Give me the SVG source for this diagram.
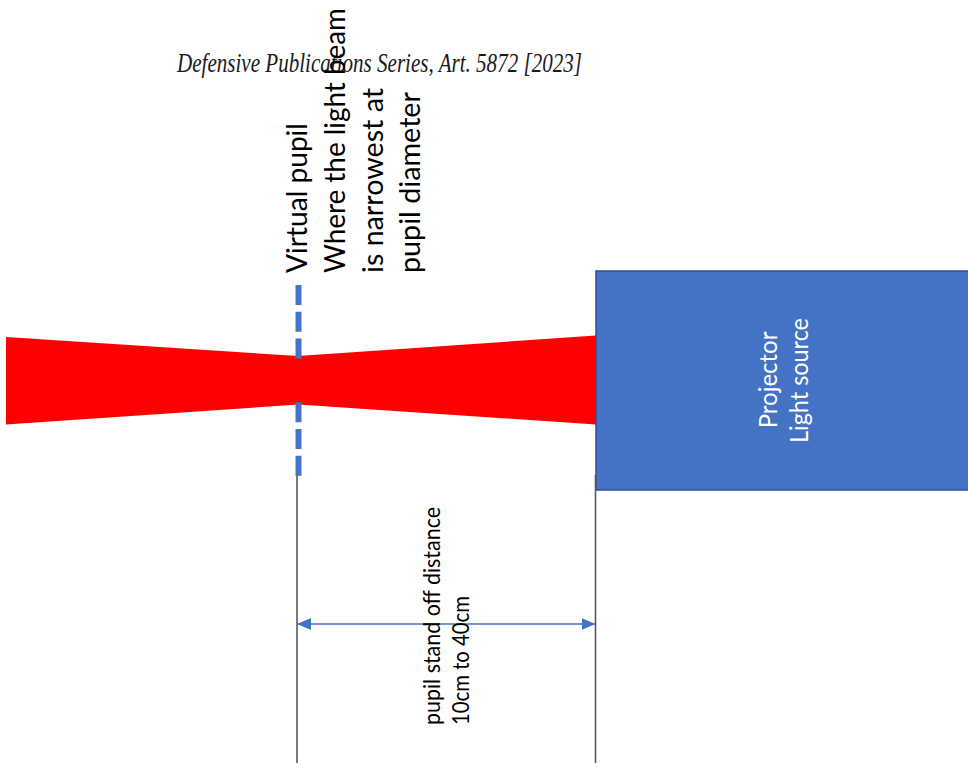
<svg xmlns="http://www.w3.org/2000/svg" width="968" height="777" viewBox="0 0 968 777">
  <defs>
    <style>
      .cal { font-family: Lato, "Open Sans", "Noto Sans", sans-serif; }
      .label { font-size: 28px; fill: #000; }
      .dim { font-size: 24px; fill: #000; }
      .box-text { font-size: 25px; fill: #fff; }
      .title { font-family: "Liberation Serif", "DejaVu Serif", serif; font-style: italic; font-size: 28px; fill: #1a1a1a; }
      .guide { stroke: #595959; stroke-width: 1.6; fill: none; }
      .pupil { stroke: #4472C4; stroke-width: 6; stroke-dasharray: 20 6.7; fill: none; }
      .dimline { stroke: #4472C4; stroke-width: 1.3; fill: none; }
    </style>
    <marker id="arrow" viewBox="0 0 14 12" refX="13.5" refY="6" markerUnits="userSpaceOnUse" markerWidth="14" markerHeight="12" orient="auto-start-reverse">
      <path d="M0,0 L14,6 L0,12 Z" fill="#4472C4"/>
    </marker>
  </defs>

  <rect width="968" height="777" fill="#fff"/>

  <!-- header -->
  <text class="title" x="177" y="72" textLength="405" lengthAdjust="spacingAndGlyphs">Defensive Publications Series, Art. 5872 [2023]</text>

  <!-- light beam converging to the virtual pupil and diverging after it -->
  <g id="beam">
    <polygon points="6,337 298,356 596,335.5 596,424.5 298,404.5 6,424.5" fill="#FF0000"/>
  </g>

  <!-- virtual pupil plane -->
  <g id="virtual-pupil">
    <line class="pupil" x1="298.5" y1="285" x2="298.5" y2="358.5"/>
    <line class="pupil" x1="298.5" y1="402.3" x2="298.5" y2="476"/>
    <text class="cal label" transform="translate(307,273) rotate(-90)" textLength="150" lengthAdjust="spacingAndGlyphs">Virtual pupil</text>
    <text class="cal label" transform="translate(344.7,273) rotate(-90)" textLength="265" lengthAdjust="spacingAndGlyphs">Where the light beam</text>
    <text class="cal label" transform="translate(382.5,273) rotate(-90)" textLength="185" lengthAdjust="spacingAndGlyphs">is narrowest at</text>
    <text class="cal label" transform="translate(420.3,273) rotate(-90)" textLength="181" lengthAdjust="spacingAndGlyphs">pupil diameter</text>
  </g>

  <!-- projector block -->
  <g id="projector">
    <rect x="596" y="271" width="380" height="219" fill="#4472C4" stroke="#2F528F" stroke-width="1.5"/>
    <text class="cal box-text" transform="translate(776.7,428.3) rotate(-90)" textLength="96.7" lengthAdjust="spacingAndGlyphs">Projector</text>
    <text class="cal box-text" transform="translate(808.3,443) rotate(-90)" textLength="125" lengthAdjust="spacingAndGlyphs">Light source</text>
  </g>

  <!-- extension lines and stand-off dimension -->
  <g id="connectors">
    <line class="guide" x1="297" y1="475" x2="297" y2="763"/>
    <line class="guide" x1="595.5" y1="475" x2="595.5" y2="763"/>
    <line class="dimline" x1="297.5" y1="624" x2="595" y2="624" marker-start="url(#arrow)" marker-end="url(#arrow)"/>
  </g>

  <g id="standoff-label">
    <text class="cal dim" transform="translate(440,725) rotate(-90)" textLength="218" lengthAdjust="spacingAndGlyphs">pupil stand off distance</text>
    <text class="cal dim" transform="translate(468.5,725) rotate(-90)" textLength="129" lengthAdjust="spacingAndGlyphs">10cm to 40cm</text>
  </g>
</svg>
